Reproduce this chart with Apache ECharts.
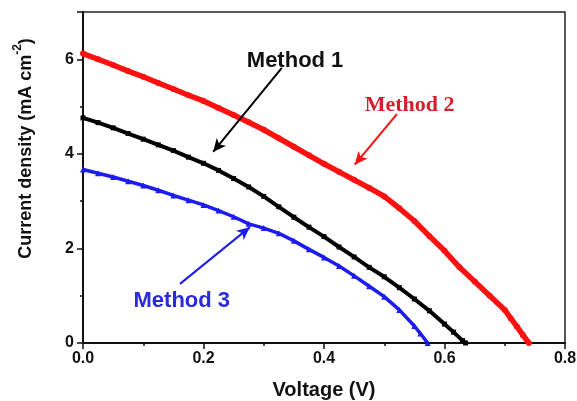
<!DOCTYPE html>
<html>
<head>
<meta charset="utf-8">
<script src="https://cdn.jsdelivr.net/npm/echarts@6/dist/echarts.min.js"></script>
<style>html,body{margin:0;padding:0;background:#fff;}#c{width:577px;height:401px;}</style>
</head>
<body>
<div id="c"></div>
<script>
// Voltage (V) sample points and current density (mA cm^-2) values
const vMethod1 = [0,0.025,0.05,0.075,0.1,0.125,0.15,0.175,0.2,0.225,0.25,0.275,0.3,0.325,0.35,0.375,0.4,0.425,0.45,0.475,0.5,0.525,0.55,0.575,0.6,0.615,0.63,0.635];
const jMethod1 = [4.76,4.66,4.55,4.43,4.31,4.19,4.07,3.93,3.80,3.65,3.48,3.30,3.10,2.88,2.66,2.45,2.25,2.03,1.82,1.60,1.40,1.17,0.93,0.68,0.40,0.23,0.05,0];

const vMethod2 = [0,0.025,0.05,0.075,0.1,0.125,0.15,0.175,0.2,0.225,0.25,0.275,0.3,0.325,0.35,0.375,0.4,0.425,0.45,0.475,0.5,0.525,0.55,0.575,0.6,0.625,0.65,0.675,0.7,0.71,0.72,0.73,0.74];
const jMethod2 = [6.12,6.00,5.88,5.75,5.63,5.50,5.37,5.24,5.12,4.97,4.82,4.67,4.51,4.33,4.15,3.97,3.79,3.62,3.45,3.28,3.10,2.85,2.58,2.26,1.95,1.60,1.30,1.00,0.70,0.52,0.35,0.17,0];

const vMethod3 = [0,0.025,0.05,0.075,0.1,0.125,0.15,0.175,0.2,0.225,0.25,0.275,0.3,0.325,0.35,0.375,0.4,0.425,0.45,0.475,0.5,0.525,0.55,0.56,0.572];
const jMethod3 = [3.67,3.59,3.51,3.42,3.33,3.23,3.12,3.02,2.92,2.80,2.67,2.52,2.43,2.32,2.16,1.98,1.81,1.63,1.42,1.20,0.98,0.70,0.36,0.20,0];

const seriesNames = ['Method 1','Method 2','Method 3'];
// annotation anchor points in data coordinates [V, J]
const labelPos = [[0.352,5.97],[0.542,5.03],[0.164,0.90]];
const arrowFrom = [[0.330,5.82],[0.521,4.84],[0.161,1.25]];
const arrowTo = [[0.216,4.04],[0.451,3.77],[0.277,2.45]];

const xTicks = {min:0,max:0.8,interval:0.2};
const yTicks = {min:0,max:7,interval:2};

const colors = ['#000000','#ff1010','#1c1cf0'];
const textColors = ['#111111','#d4202c','#2a2ad8'];
const textFonts = ['Liberation Sans','Liberation Serif','Liberation Sans'];
const symbols = ['rect','circle','triangle'];
const widths = [4,5.5,3.5];
const symSizes = [5,6,6];

function pairs(v,j){return v.map((x,i)=>[x,j[i]]);}
const dataSets = [pairs(vMethod1,jMethod1),pairs(vMethod2,jMethod2),pairs(vMethod3,jMethod3)];

const chart = echarts.init(document.getElementById('c'),null,{renderer:'canvas'});
const axisFont = {fontFamily:'Liberation Sans',fontWeight:'bold',color:'#111'};
const option = {
  animation:false,
  backgroundColor:'#fff',
  grid:{left:83,right:12,top:12,bottom:58,containLabel:false,outerBoundsMode:'none',show:true,borderColor:'#222',borderWidth:1.5,backgroundColor:'transparent'},
  xAxis:{
    type:'value',min:xTicks.min,max:xTicks.max,interval:xTicks.interval,
    name:'Voltage (V)',nameLocation:'middle',nameGap:37,
    nameTextStyle:Object.assign({fontSize:20},axisFont),
    axisLine:{lineStyle:{color:'#111',width:2}},
    axisTick:{length:6,lineStyle:{width:1.5,color:'#111'}},
    minorTick:{show:true,splitNumber:2,length:3,lineStyle:{width:1.5,color:'#111'}},
    splitLine:{show:false},
    axisLabel:Object.assign({fontSize:16,margin:8,formatter:v=>v.toFixed(1)},axisFont)
  },
  yAxis:{
    type:'value',min:yTicks.min,max:yTicks.max,interval:yTicks.interval,
    name:'{a|Current density (mA cm}{s|-2}{a|)}',nameLocation:'middle',nameGap:48,
    nameTextStyle:{padding:[0,0,0,58],rich:{
      a:Object.assign({fontSize:18,lineHeight:23,verticalAlign:'bottom'},axisFont),
      s:Object.assign({fontSize:12,lineHeight:23,verticalAlign:'top'},axisFont)
    }},
    axisLine:{show:true,lineStyle:{color:'#111',width:2}},
    axisTick:{show:true,length:6,lineStyle:{width:1.5,color:'#111'}},
    minorTick:{show:true,splitNumber:2,length:3,lineStyle:{width:1.5,color:'#111'}},
    splitLine:{show:false},
    axisLabel:Object.assign({fontSize:16,margin:9,showMaxLabel:false},axisFont)
  },
  series:dataSets.map((d,i)=>({
    name:seriesNames[i],type:'line',data:d,
    symbol:symbols[i],symbolSize:symSizes[i],showSymbol:true,
    itemStyle:{color:colors[i]},
    lineStyle:{color:colors[i],width:widths[i]},
    z:3-i,
    markLine:{
      silent:true,animation:false,
      symbol:['none','arrow'],symbolSize:[9,13],
      lineStyle:{color:colors[i],width:2,type:'solid'},
      label:{show:false},
      data:[[{coord:arrowFrom[i]},{coord:arrowTo[i]}]]
    }
  }))
};
chart.setOption(option);

const graphics = seriesNames.map((name,i)=>{
  const p = chart.convertToPixel({gridIndex:0},labelPos[i]);
  return {
    type:'text',x:p[0],y:p[1],z:100,
    style:{text:name,fill:textColors[i],font:'bold 22px "'+textFonts[i]+'"',align:'center',verticalAlign:'middle'}
  };
});
chart.setOption({graphic:graphics});
</script>
</body>
</html>
